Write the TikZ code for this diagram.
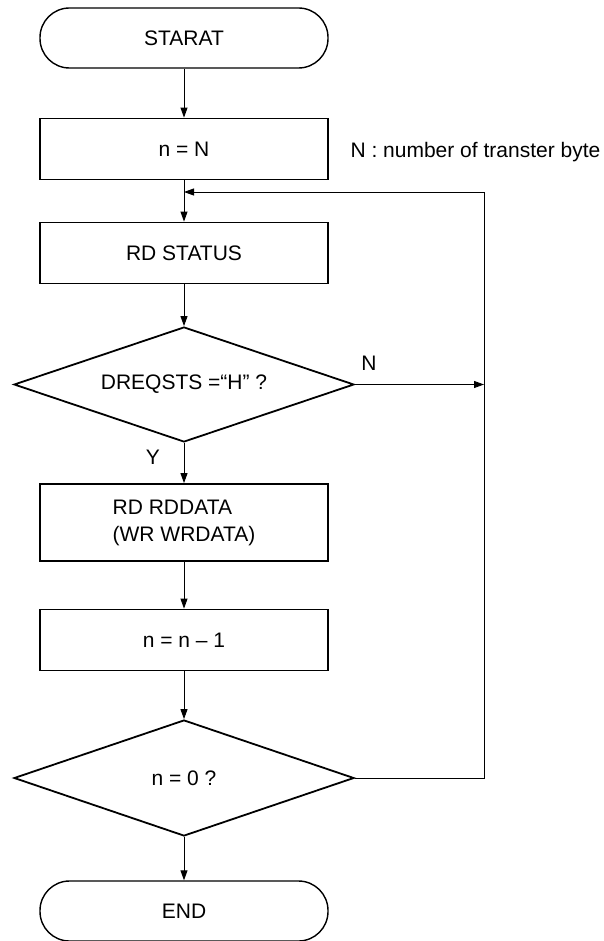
\documentclass[tikz,border=0pt]{standalone}
\usepackage{fontspec}
\setmainfont{Liberation Sans}
\usetikzlibrary{shapes.geometric, arrows.meta}

\begin{document}
\begin{tikzpicture}[
    x=1pt, y=-1pt,
    every node/.style = {font=\fontsize{21}{27}\selectfont},
    term/.style       = {draw, line width=1.4pt, rounded corners=29.5pt, minimum width=288pt, minimum height=60pt},
    proc/.style       = {draw, line width=1.8pt, minimum width=288pt, minimum height=61pt},
    cond/.style       = {draw, diamond, aspect=3, line width=1.8pt, minimum width=340pt, minimum height=115pt, inner sep=1pt},
    flow/.style       = {line width=0.9pt, -{Triangle[length=10pt,width=7pt]}}
    ]
      \useasboundingbox (0,0) rectangle (604,941);

      % boxes ----------------------------------------------------
      \node[term]  (start)  at (184,38)    {STARAT};
      \node[proc]  (setn)   at (184,149)   {n = N};
      \node[anchor=west] (note) at (347,152) {N : number of transter byte};
      \node[proc]  (status) at (184,253)   {RD STATUS};
      \node[cond]  (dreq)   at (184,384.5) {DREQSTS =“H” ?};
      \node[proc, minimum height=77pt, align=left] (data) at (184,522.5) {RD RDDATA\\(WR WRDATA)};
      \node[proc]  (dec)    at (184,640)   {n = n – 1};
      \node[cond, minimum height=116pt] (zero) at (184,778) {n = 0 ?};
      \node[term]  (end)    at (184,911)   {END};

      % branch labels --------------------------------------------
      \node (lbln) at (369,363) {N};
      \node (lbly) at (153,457) {Y};

      % loop corners ---------------------------------------------
      \coordinate (join) at (184,192);
      \coordinate (rtop) at (484,192);
      \coordinate (rmid) at (484,384.5);
      \coordinate (rbot) at (484,778);

      % edges ----------------------------------------------------
      \draw[flow] (start) -- (setn);
      \draw[flow] (setn) -- (status);
      \draw[flow] (status) -- (dreq);
      \draw[flow] (dreq) -- (data);
      \draw[flow] (data) -- (dec);
      \draw[flow] (dec) -- (zero);
      \draw[flow] (zero) -- (end);
      \draw[flow] (dreq.east) -- (rmid);
      \draw[flow] (zero.east) -- (rbot) -- (rtop) -- (join);
\end{tikzpicture}
\end{document}
